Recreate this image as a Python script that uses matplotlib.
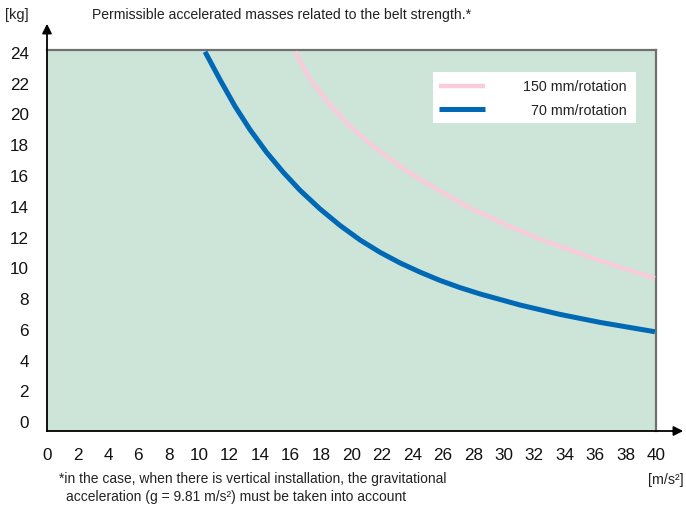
import matplotlib
matplotlib.use("Agg")
import matplotlib.pyplot as plt
from matplotlib.lines import Line2D
from matplotlib.patches import Rectangle

plt.rcParams['font.family'] = ['Liberation Sans', 'DejaVu Sans']

# ---- data ----
accel_70 = [10.38, 11.36, 12.35, 13.33, 14.43, 15.52, 16.62, 17.93, 19.24, 20.56,
            21.87, 23.18, 24.50, 25.81, 27.13, 28.44, 31.07, 33.69, 36.32, 39.93]
mass_70 = [24.08, 22.27, 20.53, 19.02, 17.53, 16.24, 15.07, 13.86, 12.79, 11.84,
           11.04, 10.35, 9.75, 9.21, 8.74, 8.33, 7.61, 7.00, 6.48, 5.87]
accel_150 = [16.29, 17.27, 18.59, 19.90, 21.22, 22.53, 23.84, 25.35, 27.59, 29.75,
             32.38, 35.01, 37.64, 39.93]
mass_150 = [24.08, 22.30, 20.62, 19.25, 18.10, 17.10, 16.20, 15.28, 14.02, 13.00,
            11.90, 10.95, 10.06, 9.35]
x_ticks = list(range(0, 41, 2))
y_ticks = list(range(0, 25, 2))
series_labels = ['150 mm/rotation', '70 mm/rotation']

PINK = '#f8ccdb'
BLUE = '#0068b4'
TXT = '#222222'

W, H = 686, 508
fig = plt.figure(figsize=(W / 100, H / 100), dpi=100)

def fx(px):
    return px / W

def fy(py):
    return (H - py) / H

ax = fig.add_axes([fx(47), fy(431), fx(656) - fx(47), fy(50) - fy(431)])
ax.set_facecolor('#cce5d8')
ax.set_xlim(0, 40)
ax.set_ylim(-0.585, 24.195)

ax.plot(accel_150, mass_150, color=PINK, lw=3.2, solid_capstyle='butt',
        solid_joinstyle='round', zorder=3)
ax.plot(accel_70, mass_70, color=BLUE, lw=3.6, solid_capstyle='butt',
        solid_joinstyle='round', zorder=4)

ax.set_xticks(x_ticks)
ax.set_yticks(y_ticks)
ax.tick_params(axis='both', length=0, labelsize=12.3, labelcolor='#111111')
ax.tick_params(axis='x', pad=12)
ax.tick_params(axis='y', pad=13)

for s in ['top', 'right']:
    ax.spines[s].set_color('#707070')
    ax.spines[s].set_linewidth(1.6)
ax.spines['bottom'].set_visible(False)
ax.spines['left'].set_visible(False)

# axes with arrows
fig.add_artist(Line2D([fx(47), fx(676)], [fy(431), fy(431)], transform=fig.transFigure,
                      color='black', lw=1.3))
fig.add_artist(Line2D([fx(47), fx(47)], [fy(431), fy(30)], transform=fig.transFigure,
                      color='black', lw=1.3))
ax.annotate('', xy=(fx(686), fy(431)), xytext=(fx(670), fy(431)),
            xycoords='figure fraction', textcoords='figure fraction',
            arrowprops=dict(arrowstyle='-|>', color='black', lw=1.3, mutation_scale=14))
ax.annotate('', xy=(fx(47), fy(21)), xytext=(fx(47), fy(36)),
            xycoords='figure fraction', textcoords='figure fraction',
            arrowprops=dict(arrowstyle='-|>', color='black', lw=1.3, mutation_scale=14))

# legend box
fig.add_artist(Rectangle((fx(433), fy(123)), fx(636) - fx(433), fy(72) - fy(123),
                         transform=fig.transFigure, facecolor='white', edgecolor='none', zorder=5))
fig.add_artist(Line2D([fx(439), fx(485)], [fy(86), fy(86)], transform=fig.transFigure,
                      color=PINK, lw=3.2, solid_capstyle='butt', zorder=6))
fig.add_artist(Line2D([fx(439), fx(485)], [fy(109), fy(109)], transform=fig.transFigure,
                      color=BLUE, lw=3.6, solid_capstyle='butt', zorder=6))
fig.text(fx(627), fy(87), series_labels[0], ha='right', va='center', fontsize=10.3,
         color=TXT, zorder=7)
fig.text(fx(627), fy(111), series_labels[1], ha='right', va='center', fontsize=10.3,
         color=TXT, zorder=7)

# texts
fig.text(fx(5), fy(15), '[kg]', ha='left', va='center', fontsize=10.5, color=TXT)
fig.text(fx(92), fy(15), 'Permissible accelerated masses related to the belt strength.*',
         ha='left', va='center', fontsize=10.1, color=TXT)
fig.text(fx(684), fy(480), '[m/s²]', ha='right', va='center', fontsize=10.3, color=TXT)
fig.text(fx(59), fy(479), '*in the case, when there is vertical installation, the gravitational',
         ha='left', va='center', fontsize=10.0, color=TXT)
fig.text(fx(66), fy(497), 'acceleration (g = 9.81 m/s²) must be taken into account',
         ha='left', va='center', fontsize=10.0, color=TXT)

fig.savefig('out.png', dpi=100)
